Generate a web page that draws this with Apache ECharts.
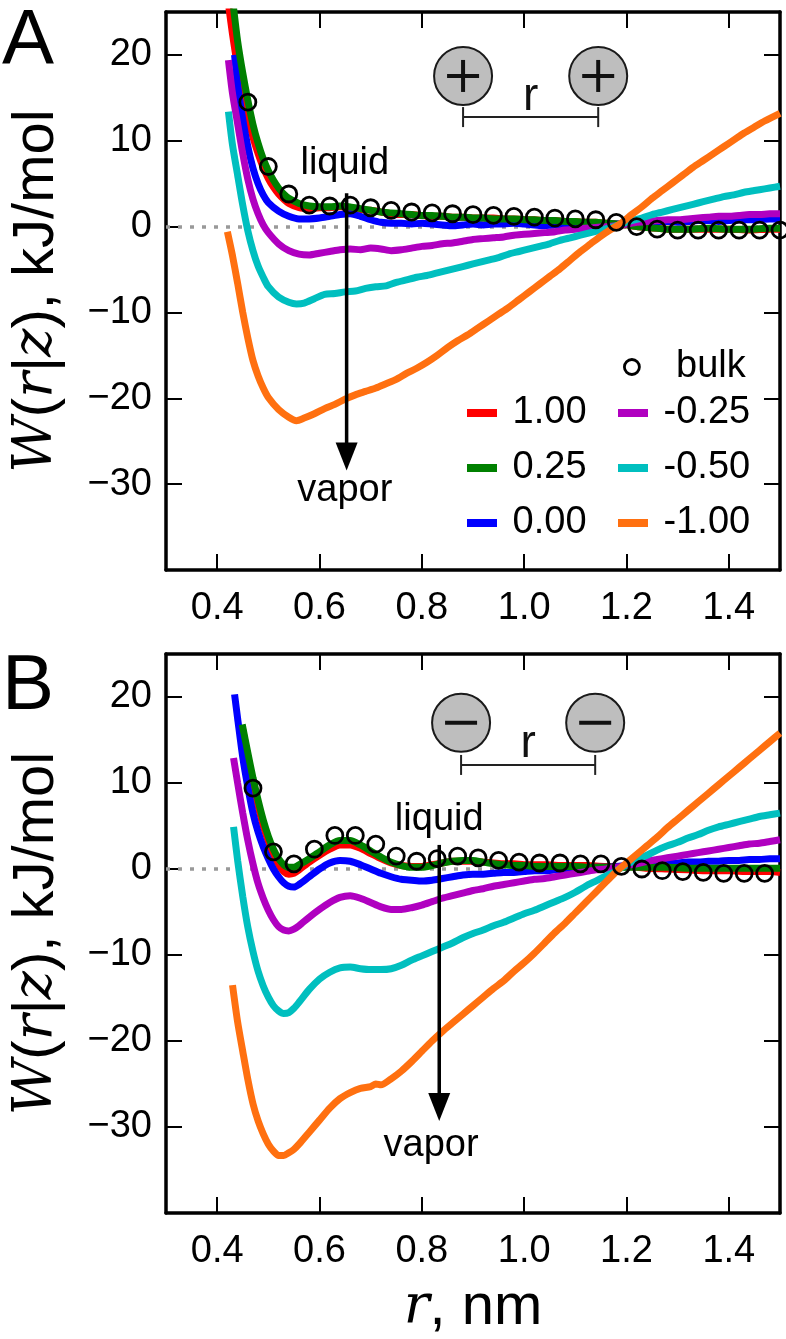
<!DOCTYPE html>
<html>
<head>
<meta charset="utf-8">
<script src="https://cdn.jsdelivr.net/npm/echarts@6/dist/echarts.min.js"></script>
<style>
html,body{margin:0;padding:0;background:#fff;}
#chart{width:786px;height:1339px;}
</style>
</head>
<body>
<div id="chart"></div>
<script>
// ---------- DATA (r in nm, W in kJ/mol) ----------
const seriesNames = ['1.00', '0.25', '0.00', '-0.25', '-0.50', '-1.00'];
const xTickRange = [0.3, 1.5];
const yTickRange = [-40, 25];

// Panel A (cations)
const A_bulk = [[0.46,14.5],[0.50,7.0],[0.54,3.8],[0.58,2.5],[0.62,2.4],[0.66,2.5],[0.70,2.2],[0.74,1.9],[0.78,1.7],[0.82,1.6],[0.86,1.5],[0.90,1.4],[0.94,1.3],[0.98,1.2],[1.02,1.1],[1.06,1.0],[1.10,0.9],[1.14,0.8],[1.18,0.5],[1.22,0.0],[1.26,-0.3],[1.30,-0.4],[1.34,-0.4],[1.38,-0.4],[1.42,-0.4],[1.46,-0.4],[1.50,-0.4]];
const A_z100 = [[0.423,25.5],[0.43,22.4],[0.44,18.6],[0.45,15.4],[0.46,12.7],[0.47,10.4],[0.48,8.5],[0.49,6.9],[0.50,5.6],[0.51,4.6],[0.52,3.8],[0.53,3.2],[0.54,2.7],[0.56,2.2],[0.58,2.1],[0.60,2.2],[0.62,2.2],[0.64,2.3],[0.66,2.2],[0.68,2.0],[0.70,1.9],[0.72,1.7],[0.74,1.5],[0.76,1.4],[0.78,1.4],[0.80,1.3],[0.82,1.2],[0.84,1.2],[0.86,1.1],[0.88,1.1],[0.90,1.0],[0.92,1.0],[0.94,1.0],[0.96,0.9],[0.98,0.9],[1.00,0.8],[1.02,0.8],[1.04,0.7],[1.06,0.7],[1.08,0.6],[1.10,0.6],[1.12,0.5],[1.14,0.5],[1.16,0.4],[1.18,0.3],[1.20,0.2],[1.22,0.0],[1.24,-0.1],[1.26,-0.2],[1.28,-0.3],[1.32,-0.3],[1.36,-0.3],[1.40,-0.3],[1.44,-0.4],[1.48,-0.3],[1.50,-0.3]];
const A_z025 = [[0.432,25.5],[0.44,21.6],[0.45,17.9],[0.46,14.7],[0.47,11.9],[0.48,9.7],[0.49,7.9],[0.50,6.5],[0.51,5.4],[0.52,4.5],[0.53,3.8],[0.54,3.3],[0.56,2.7],[0.58,2.4],[0.60,2.3],[0.62,2.3],[0.64,2.4],[0.66,2.3],[0.68,2.1],[0.70,1.9],[0.72,1.7],[0.74,1.6],[0.76,1.5],[0.78,1.4],[0.80,1.3],[0.82,1.3],[0.84,1.2],[0.86,1.1],[0.88,1.1],[0.90,1.0],[0.92,1.0],[0.94,0.9],[0.96,0.9],[0.98,0.9],[1.00,0.8],[1.02,0.8],[1.04,0.7],[1.06,0.7],[1.08,0.6],[1.10,0.6],[1.12,0.5],[1.14,0.5],[1.16,0.4],[1.18,0.3],[1.20,0.2],[1.22,0.0],[1.24,-0.1],[1.26,-0.2],[1.28,-0.3],[1.32,-0.3],[1.36,-0.2],[1.40,-0.3],[1.44,-0.3],[1.48,-0.2],[1.50,-0.2]];
const A_z000 = [[0.434,20.0],[0.44,16.5],[0.45,12.5],[0.46,9.3],[0.47,6.8],[0.48,5.0],[0.49,3.7],[0.50,2.8],[0.52,1.8],[0.54,1.2],[0.56,0.9],[0.58,0.9],[0.60,1.0],[0.62,1.2],[0.64,1.4],[0.66,1.5],[0.68,1.2],[0.70,0.8],[0.72,0.5],[0.74,0.4],[0.76,0.4],[0.78,0.3],[0.80,0.4],[0.82,0.3],[0.84,0.2],[0.86,0.1],[0.88,0.2],[0.90,0.3],[0.92,0.2],[0.94,0.3],[0.96,0.3],[0.98,0.4],[1.00,0.3],[1.02,0.2],[1.04,0.1],[1.06,0.2],[1.08,0.2],[1.10,0.3],[1.12,0.3],[1.14,0.3],[1.16,0.3],[1.18,0.3],[1.20,0.3],[1.22,0.4],[1.24,0.5],[1.26,0.6],[1.28,0.6],[1.30,0.5],[1.32,0.6],[1.34,0.7],[1.36,0.7],[1.38,0.6],[1.40,0.7],[1.42,0.8],[1.44,0.8],[1.46,0.8],[1.48,0.9],[1.50,0.9]];
const A_zm025 = [[0.422,19.4],[0.43,15.5],[0.44,12.0],[0.45,8.5],[0.46,5.5],[0.47,3.2],[0.48,1.5],[0.49,0.2],[0.50,-0.7],[0.52,-2.0],[0.54,-2.8],[0.56,-3.2],[0.58,-3.3],[0.60,-3.1],[0.62,-2.9],[0.64,-2.7],[0.66,-2.6],[0.68,-2.7],[0.70,-2.5],[0.72,-2.6],[0.74,-2.8],[0.76,-2.7],[0.78,-2.5],[0.80,-2.3],[0.82,-2.2],[0.84,-2.0],[0.86,-1.9],[0.88,-1.7],[0.90,-1.5],[0.92,-1.4],[0.94,-1.3],[0.96,-1.2],[0.98,-1.0],[1.00,-0.9],[1.02,-0.8],[1.04,-0.7],[1.06,-0.6],[1.08,-0.4],[1.10,-0.3],[1.12,-0.2],[1.14,-0.1],[1.16,0.0],[1.18,0.1],[1.20,0.3],[1.22,0.5],[1.24,0.6],[1.26,0.7],[1.28,0.8],[1.30,0.8],[1.32,0.9],[1.34,1.0],[1.36,1.1],[1.38,1.2],[1.40,1.2],[1.42,1.3],[1.44,1.4],[1.46,1.4],[1.48,1.5],[1.50,1.5]];
const A_zm050 = [[0.422,13.4],[0.43,9.5],[0.44,6.0],[0.45,2.5],[0.46,-0.5],[0.47,-2.8],[0.48,-4.6],[0.49,-5.9],[0.50,-7.0],[0.52,-8.2],[0.54,-8.8],[0.555,-9.0],[0.57,-8.9],[0.59,-8.4],[0.61,-7.9],[0.63,-7.8],[0.65,-7.6],[0.67,-7.5],[0.69,-7.2],[0.71,-7.0],[0.73,-6.9],[0.75,-6.5],[0.77,-6.2],[0.79,-5.9],[0.81,-5.7],[0.83,-5.4],[0.85,-5.1],[0.87,-4.8],[0.89,-4.5],[0.91,-4.2],[0.93,-3.9],[0.95,-3.6],[0.97,-3.2],[0.99,-2.9],[1.01,-2.6],[1.03,-2.3],[1.05,-2.0],[1.07,-1.6],[1.09,-1.3],[1.11,-1.0],[1.13,-0.7],[1.15,-0.4],[1.17,-0.1],[1.19,0.3],[1.21,0.7],[1.23,1.0],[1.25,1.4],[1.27,1.7],[1.29,2.0],[1.31,2.3],[1.33,2.6],[1.35,2.9],[1.37,3.2],[1.39,3.5],[1.41,3.7],[1.43,4.0],[1.45,4.2],[1.47,4.4],[1.49,4.6],[1.50,4.7]];
const A_zm100 = [[0.42,-0.6],[0.43,-3.4],[0.44,-6.6],[0.45,-10.0],[0.46,-13.0],[0.47,-15.6],[0.48,-17.4],[0.49,-18.8],[0.50,-19.9],[0.52,-21.3],[0.54,-22.2],[0.555,-22.6],[0.57,-22.3],[0.59,-21.8],[0.61,-21.2],[0.63,-20.7],[0.65,-20.1],[0.67,-19.6],[0.69,-19.2],[0.71,-18.8],[0.73,-18.3],[0.75,-17.8],[0.77,-17.1],[0.79,-16.5],[0.81,-15.8],[0.83,-15.0],[0.85,-14.1],[0.87,-13.3],[0.89,-12.6],[0.91,-11.8],[0.93,-11.0],[0.95,-10.2],[0.97,-9.4],[0.99,-8.5],[1.01,-7.6],[1.03,-6.7],[1.05,-5.8],[1.07,-4.9],[1.09,-3.9],[1.11,-2.9],[1.13,-2.0],[1.15,-1.1],[1.17,-0.3],[1.19,0.4],[1.21,1.4],[1.23,2.3],[1.25,3.3],[1.27,4.2],[1.29,5.1],[1.31,6.0],[1.33,6.9],[1.35,7.7],[1.37,8.5],[1.39,9.3],[1.41,10.1],[1.43,10.9],[1.45,11.6],[1.47,12.3],[1.50,13.2]];

// Panel B (anions)
const B_bulk = [[0.47,9.4],[0.51,2.0],[0.55,0.6],[0.59,2.3],[0.63,3.9],[0.67,3.9],[0.71,2.9],[0.75,1.5],[0.79,0.9],[0.83,1.2],[0.87,1.5],[0.91,1.3],[0.95,1.0],[0.99,0.8],[1.03,0.7],[1.07,0.7],[1.11,0.6],[1.15,0.6],[1.19,0.3],[1.23,0.0],[1.27,-0.2],[1.31,-0.3],[1.35,-0.4],[1.39,-0.5],[1.43,-0.5],[1.47,-0.5]];
const B_z100 = [[0.449,16.5],[0.46,13.0],[0.47,10.0],[0.48,7.3],[0.49,5.0],[0.50,3.2],[0.51,1.7],[0.52,0.5],[0.53,-0.3],[0.54,-0.6],[0.55,-0.5],[0.56,-0.1],[0.58,0.8],[0.60,1.6],[0.62,2.3],[0.64,2.8],[0.66,2.8],[0.68,2.4],[0.70,1.8],[0.72,1.2],[0.74,0.7],[0.76,0.4],[0.78,0.3],[0.80,0.3],[0.82,0.5],[0.84,0.7],[0.86,0.9],[0.88,0.9],[0.90,0.9],[0.92,0.8],[0.94,0.7],[0.96,0.6],[0.98,0.6],[1.00,0.5],[1.04,0.5],[1.08,0.4],[1.12,0.4],[1.16,0.3],[1.20,0.3],[1.24,0.1],[1.28,0.0],[1.32,-0.1],[1.36,-0.2],[1.40,-0.2],[1.44,-0.3],[1.48,-0.3],[1.50,-0.4]];
const B_z025 = [[0.449,16.8],[0.46,13.5],[0.47,10.6],[0.48,8.0],[0.49,5.7],[0.50,3.8],[0.51,2.3],[0.52,1.2],[0.53,0.5],[0.54,0.2],[0.55,0.2],[0.56,0.5],[0.58,1.2],[0.60,2.0],[0.62,2.8],[0.64,3.3],[0.66,3.3],[0.68,2.8],[0.70,2.1],[0.72,1.4],[0.74,0.8],[0.76,0.4],[0.78,0.2],[0.80,0.2],[0.82,0.4],[0.84,0.7],[0.86,0.9],[0.88,1.0],[0.90,1.0],[0.92,0.8],[0.94,0.6],[0.96,0.5],[0.98,0.4],[1.00,0.4],[1.02,0.3],[1.04,0.3],[1.06,0.3],[1.08,0.3],[1.10,0.3],[1.12,0.2],[1.14,0.2],[1.16,0.2],[1.18,0.2],[1.20,0.2],[1.24,0.2],[1.28,0.2],[1.32,0.1],[1.36,0.1],[1.40,0.1],[1.44,0.1],[1.50,0.1]];
const B_z000 = [[0.434,20.3],[0.44,17.5],[0.45,13.0],[0.46,9.5],[0.47,6.5],[0.48,4.3],[0.49,2.6],[0.50,1.2],[0.51,0.0],[0.52,-0.9],[0.53,-1.6],[0.54,-2.0],[0.55,-2.1],[0.56,-1.8],[0.58,-0.9],[0.60,0.0],[0.62,0.7],[0.64,1.0],[0.66,0.9],[0.68,0.5],[0.70,0.0],[0.72,-0.5],[0.74,-0.9],[0.76,-1.2],[0.78,-1.3],[0.80,-1.4],[0.82,-1.3],[0.84,-1.1],[0.86,-0.9],[0.88,-0.7],[0.90,-0.6],[0.92,-0.6],[0.94,-0.5],[0.96,-0.4],[0.98,-0.4],[1.00,-0.3],[1.02,-0.2],[1.04,-0.2],[1.06,-0.1],[1.08,0.0],[1.10,0.0],[1.12,0.1],[1.14,0.2],[1.16,0.2],[1.18,0.3],[1.20,0.4],[1.22,0.5],[1.24,0.6],[1.26,0.6],[1.28,0.7],[1.30,0.7],[1.32,0.8],[1.34,0.8],[1.36,0.9],[1.38,0.9],[1.40,1.0],[1.42,1.0],[1.44,1.1],[1.46,1.1],[1.48,1.2],[1.50,1.2]];
const B_zm025 = [[0.432,12.9],[0.44,10.0],[0.45,6.5],[0.46,3.3],[0.47,0.6],[0.48,-1.7],[0.49,-3.4],[0.50,-4.8],[0.51,-5.9],[0.52,-6.7],[0.53,-7.1],[0.54,-7.2],[0.55,-7.0],[0.56,-6.6],[0.58,-5.6],[0.60,-4.7],[0.62,-3.9],[0.64,-3.3],[0.66,-3.1],[0.68,-3.4],[0.70,-3.9],[0.72,-4.4],[0.74,-4.7],[0.76,-4.7],[0.78,-4.5],[0.80,-4.2],[0.82,-3.8],[0.84,-3.4],[0.86,-3.1],[0.88,-2.8],[0.90,-2.5],[0.92,-2.3],[0.94,-2.0],[0.96,-1.8],[0.98,-1.6],[1.00,-1.4],[1.02,-1.2],[1.04,-1.1],[1.06,-0.9],[1.08,-0.7],[1.10,-0.5],[1.12,-0.3],[1.14,-0.1],[1.16,0.0],[1.18,0.2],[1.20,0.4],[1.22,0.6],[1.24,0.9],[1.26,1.1],[1.28,1.3],[1.30,1.5],[1.32,1.7],[1.34,1.9],[1.36,2.1],[1.38,2.3],[1.40,2.5],[1.42,2.7],[1.44,2.9],[1.46,3.0],[1.48,3.2],[1.50,3.4]];
const B_zm050 = [[0.432,4.9],[0.44,1.0],[0.45,-3.2],[0.46,-6.8],[0.47,-9.6],[0.48,-11.9],[0.49,-13.6],[0.50,-14.9],[0.51,-15.9],[0.52,-16.5],[0.53,-16.8],[0.54,-16.7],[0.55,-16.2],[0.56,-15.5],[0.58,-14.0],[0.60,-12.8],[0.62,-12.0],[0.64,-11.5],[0.66,-11.4],[0.68,-11.6],[0.70,-11.7],[0.72,-11.7],[0.74,-11.6],[0.76,-11.2],[0.78,-10.6],[0.80,-10.1],[0.82,-9.6],[0.84,-9.1],[0.86,-8.6],[0.88,-8.0],[0.90,-7.5],[0.92,-7.1],[0.94,-6.6],[0.96,-6.2],[0.98,-5.7],[1.00,-5.2],[1.02,-4.8],[1.04,-4.3],[1.06,-3.8],[1.08,-3.3],[1.10,-2.7],[1.12,-2.0],[1.14,-1.4],[1.16,-0.8],[1.18,-0.2],[1.20,0.5],[1.22,1.1],[1.24,1.6],[1.26,2.2],[1.28,2.7],[1.30,3.1],[1.32,3.6],[1.34,4.0],[1.36,4.5],[1.38,4.9],[1.40,5.2],[1.42,5.5],[1.44,5.8],[1.46,6.1],[1.48,6.3],[1.50,6.5]];
const B_zm100 = [[0.43,-13.5],[0.44,-17.8],[0.45,-21.2],[0.46,-24.5],[0.47,-27.3],[0.48,-29.3],[0.49,-30.8],[0.50,-32.0],[0.51,-32.8],[0.52,-33.3],[0.53,-33.3],[0.54,-33.0],[0.55,-32.6],[0.56,-32.0],[0.58,-30.6],[0.60,-29.2],[0.62,-27.8],[0.64,-26.7],[0.66,-26.0],[0.68,-25.5],[0.70,-25.3],[0.71,-25.0],[0.72,-25.1],[0.74,-24.4],[0.76,-23.5],[0.78,-22.4],[0.80,-21.2],[0.82,-20.0],[0.84,-18.9],[0.86,-17.9],[0.88,-16.9],[0.90,-15.9],[0.92,-14.9],[0.94,-13.9],[0.96,-13.0],[0.98,-11.9],[1.00,-10.9],[1.02,-9.8],[1.04,-8.6],[1.06,-7.4],[1.08,-6.3],[1.10,-5.1],[1.12,-3.9],[1.14,-2.7],[1.16,-1.5],[1.18,-0.3],[1.20,0.7],[1.22,1.7],[1.24,2.7],[1.26,3.7],[1.28,4.8],[1.30,5.8],[1.32,6.8],[1.34,7.8],[1.36,8.8],[1.38,9.8],[1.40,10.8],[1.42,11.8],[1.44,12.8],[1.46,13.8],[1.48,14.8],[1.50,15.8]];

// Annotation anchors (data coordinates)
const insetA = {r1:0.8806, r2:1.1447, wCircle:17.55, wBar:12.76, rLabel:1.0126, wLabel:15.1, sign:'+'};
const insetB = {r1:0.8767, r2:1.1388, wCircle:17.0, wBar:12.1, rLabel:1.0078, wLabel:14.5, sign:'-'};
const arrowA = {r:0.653, top:3.9, tip:-28.4, liquid:[0.6495,7.3], vapor:[0.6495,-30.7]};
const arrowB = {r:0.834, top:2.8, tip:-29.3, liquid:[0.834,5.8], vapor:[0.818,-32.1]};

// ---------- STYLE ----------
const colors = {'1.00':'#ff0000','0.25':'#008000','0.00':'#0000ff','-0.25':'#b000c0','-0.50':'#00bfbf','-1.00':'#ff7010'};
const SANS = '"Liberation Sans", Arial, Helvetica, sans-serif';
const SERIF = '"DejaVu Serif", "Liberation Serif", serif';

const chart = echarts.init(document.getElementById('chart'), null, {renderer:'canvas'});

function xAx(grid, pos, withLabels, name){
  return {
    gridIndex: grid, type:'value', position: pos, min: xTickRange[0], max: xTickRange[1],
    axisLine:{onZero:false, lineStyle:{color:'#000', width:3.5}},
    axisTick:{inside:true, length:16, lineStyle:{color:'#000', width:2}},
    splitLine:{show:false},
    axisLabel:{show:withLabels, showMinLabel:false, showMaxLabel:false, margin:20,
      color:'#000', fontSize:38, fontFamily:SANS, formatter:v=>v.toFixed(1)},
    name: name || '', nameLocation:'middle', nameGap:66,
    nameTextStyle:{color:'#000', fontSize:58, fontFamily:SANS,
      rich:{m:{fontFamily:SERIF, fontStyle:'italic', fontSize:54, color:'#000'}}}
  };
}
function yAx(grid, pos, withLabels){
  return {
    gridIndex: grid, type:'value', position: pos, min: yTickRange[0], max: yTickRange[1], interval:10,
    axisLine:{onZero:false, lineStyle:{color:'#000', width:3.5}},
    axisTick:{inside:true, length:16, lineStyle:{color:'#000', width:2}},
    splitLine:{show:false},
    axisLabel:{show:withLabels, showMaxLabel:false, margin:14, color:'#000', fontSize:38, fontFamily:SANS,
      formatter:v=> v === yTickRange[0] ? '' : (v < 0 ? '\u2212' + Math.abs(v) : String(v))},
    name: withLabels ? '{m|W}({m|r}|{m|z}), kJ/mol' : '', nameLocation:'middle', nameRotate:90, nameGap:100,
    nameTextStyle:{color:'#000', fontSize:58, fontFamily:SANS,
      rich:{m:{fontFamily:SERIF, fontStyle:'italic', fontSize:54, color:'#000'}}}
  };
}

function lineSeries(name, data, axIdx){
  return {
    type:'line', name, data, xAxisIndex:axIdx, yAxisIndex:axIdx,
    showSymbol:false, symbol:'none', smooth:0.25, clip:true,
    lineStyle:{color:colors[name], width:7},
    itemStyle:{color:colors[name]},
    emphasis:{disabled:true}, silent:true, z:2
  };
}
function bulkSeries(data, axIdx){
  return {
    type:'scatter', name:'bulk', data, xAxisIndex:axIdx, yAxisIndex:axIdx,
    symbol:'circle', symbolSize:16, clip:true,
    itemStyle:{color:'rgba(0,0,0,0)', borderColor:'#000', borderWidth:2.8, opacity:1},
    emphasis:{disabled:true}, silent:true, z:2,
    markLine:{silent:true, z:1, symbol:['none','none'], label:{show:false},
      lineStyle:{color:'#999', type:[4,8], width:3.5}, emphasis:{disabled:true},
      data:[{yAxis:0}]}
  };
}

const panelA = [A_z100, A_z025, A_z000, A_zm025, A_zm050, A_zm100];
const panelB = [B_z100, B_z025, B_z000, B_zm025, B_zm050, B_zm100];
const drawOrder = [0, 2, 1, 3, 4, 5]; // red, blue, green, magenta, cyan, orange

const series = [bulkSeries(A_bulk, 0), bulkSeries(B_bulk, 2)];
drawOrder.forEach(i => series.push(lineSeries(seriesNames[i], panelA[i], 0)));
drawOrder.forEach(i => series.push(lineSeries(seriesNames[i], panelB[i], 2)));

const legendText = {color:'#000', fontSize:38, fontFamily:SANS, lineHeight:40};
chart.setOption({
  animation:false,
  backgroundColor:'#fff',
  grid:[
    {left:165, top:12, width:615, height:558},
    {left:165, top:654, width:615, height:559}
  ],
  xAxis:[xAx(0,'bottom',true), xAx(0,'top',false), xAx(1,'bottom',true,'{m|r}, nm'), xAx(1,'top',false)],
  yAxis:[yAx(0,'left',true), yAx(0,'right',false), yAx(1,'left',true), yAx(1,'right',false)],
  legend:[
    {data:[{name:'bulk', icon:'circle', itemStyle:{color:'rgba(0,0,0,0)', borderColor:'#000', borderWidth:2.8, opacity:1}}],
     left:623, top:347, padding:0, itemWidth:15, itemHeight:15, selectedMode:false,
     textStyle:legendText, formatter:n=>'   ' + n},
    {data:seriesNames.slice(0,3), orient:'vertical', left:467, top:393, padding:0, itemGap:15,
     itemWidth:30, itemHeight:8, icon:'rect', selectedMode:false, textStyle:legendText, formatter:n=>' ' + n},
    {data:seriesNames.slice(3), orient:'vertical', left:618, top:393, padding:0, itemGap:15,
     itemWidth:30, itemHeight:8, icon:'rect', selectedMode:false, textStyle:legendText, formatter:n=>' ' + n}
  ],
  series
});

// ---------- ANNOTATIONS (anchored in data space) ----------
function px(axIdx, r, w){ return chart.convertToPixel({xAxisIndex:axIdx, yAxisIndex:axIdx}, [r, w]); }
const g = [];
function inset(axIdx, ins){
  const c1 = px(axIdx, ins.r1, ins.wCircle), c2 = px(axIdx, ins.r2, ins.wCircle);
  [c1, c2].forEach(c => {
    g.push({type:'circle', shape:{cx:c[0], cy:c[1], r:29}, style:{fill:'#bebebe', stroke:'#1a1a1a', lineWidth:2}, z:50});
    g.push({type:'line', shape:{x1:c[0]-16, y1:c[1], x2:c[0]+16, y2:c[1]}, style:{stroke:'#111', lineWidth:4}, z:51});
    if (ins.sign === '+') g.push({type:'line', shape:{x1:c[0], y1:c[1]-16, x2:c[0], y2:c[1]+16}, style:{stroke:'#111', lineWidth:4}, z:51});
  });
  const b1 = px(axIdx, ins.r1, ins.wBar), b2 = px(axIdx, ins.r2, ins.wBar);
  g.push({type:'line', shape:{x1:b1[0], y1:b1[1], x2:b2[0], y2:b2[1]}, style:{stroke:'#222', lineWidth:2}, z:50});
  [b1, b2].forEach(b => g.push({type:'line', shape:{x1:b[0], y1:b[1]-10, x2:b[0], y2:b[1]+10}, style:{stroke:'#222', lineWidth:2}, z:50}));
  const t = px(axIdx, ins.rLabel, ins.wLabel);
  g.push({type:'text', x:t[0], y:t[1], style:{text:'r', fontSize:46, fontFamily:SANS, fill:'#111', align:'center', verticalAlign:'middle'}, z:50});
}
function arrow(axIdx, a){
  const top = px(axIdx, a.r, a.top), tip = px(axIdx, a.r, a.tip);
  const baseY = tip[1] - 28;
  g.push({type:'line', shape:{x1:top[0], y1:top[1], x2:tip[0], y2:baseY+2}, style:{stroke:'#000', lineWidth:3.5}, z:60});
  g.push({type:'polygon', shape:{points:[[tip[0]-11, baseY],[tip[0]+11, baseY],[tip[0], tip[1]]]}, style:{fill:'#000'}, z:60});
  const l = px(axIdx, a.liquid[0], a.liquid[1]), v = px(axIdx, a.vapor[0], a.vapor[1]);
  g.push({type:'text', x:l[0], y:l[1], style:{text:'liquid', fontSize:38, fontFamily:SANS, fill:'#000', align:'center', verticalAlign:'middle'}, z:60});
  g.push({type:'text', x:v[0], y:v[1], style:{text:'vapor', fontSize:38, fontFamily:SANS, fill:'#000', align:'center', verticalAlign:'middle'}, z:60});
}
inset(0, insetA); inset(2, insetB);
arrow(0, arrowA); arrow(2, arrowB);
g.push({type:'text', x:2, y:42, style:{text:'A', fontSize:78, fontFamily:SANS, fill:'#000', align:'left', verticalAlign:'middle'}, z:60});
g.push({type:'text', x:2, y:687, style:{text:'B', fontSize:78, fontFamily:SANS, fill:'#000', align:'left', verticalAlign:'middle'}, z:60});
chart.setOption({graphic:{elements:g}});
</script>
</body>
</html>
